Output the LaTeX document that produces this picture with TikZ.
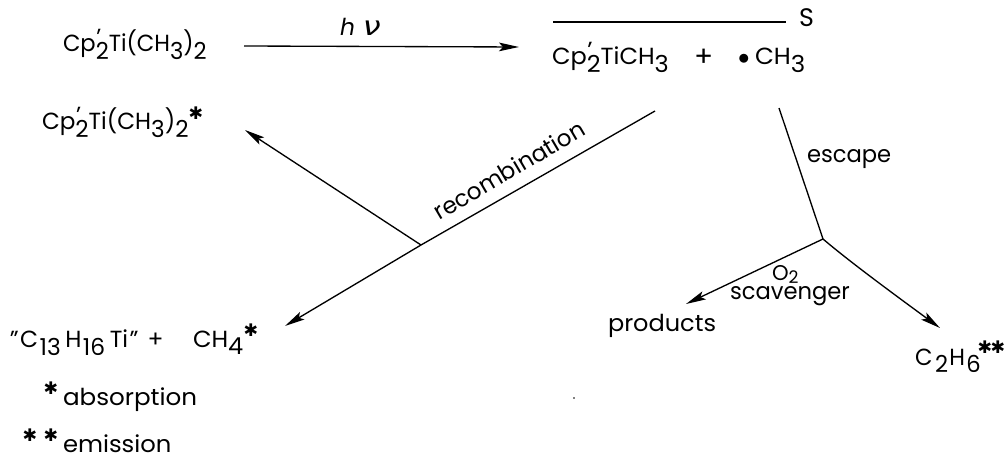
\documentclass[tikz,border=0pt]{standalone}
\usepackage{fontspec}
\setmainfont{Poppins}
\newfontfamily\djv{DejaVu Sans}
\usetikzlibrary{arrows.meta}
\newcommand{\dn}[1]{\raisebox{-0.55ex}{#1}}
\newcommand{\dnn}[1]{\raisebox{-0.7ex}{#1}}
\newcommand{\cpp}{Cp\rlap{\raisebox{0.5ex}{\kern0.5pt'}}\dn{2}}
\newcommand{\wid}[2]{\scalebox{#1}[1]{#2}}
\tikzset{
  txt/.style={inner sep=0pt,outer sep=0pt,anchor=base west,font=\fontsize{17.5pt}{20pt}\selectfont},
  starn/.style={inner sep=0pt,outer sep=0pt,anchor=center,font=\djv\fontsize{13pt}{14pt}\selectfont},
  lin/.style={line width=1pt,black},
  arr/.style={lin,-{Stealth[length=15pt,width=6.5pt,inset=3pt]}},
}
\begin{document}
\begin{tikzpicture}[x=0.75pt,y=-0.75pt]
\useasboundingbox (0,0) rectangle (1004,456);
% labels
\node[txt] (a) at (63,52) {\wid{0.97}{\cpp Ti(CH\dn{3})\dn{2}}};
\node[txt] (b) at (42,130) {\wid{0.99}{\cpp Ti(CH\dn{3})\dn{2}}};
\node[starn] (bs) at (196,113) {✱};
\node[txt] (hv) at (340,36) {\textit{h}\kern6pt\wid{1.2}{\djv\itshape\fontsize{20pt}{20pt}\selectfont ν}};
\node[txt,font=\fontsize{19pt}{20pt}\selectfont] (s) at (799,27) {S};
\node[txt] (c) at (552,65) {\wid{1.03}{\cpp TiCH\dn{3}}};
\node[txt,font=\fontsize{21pt}{22pt}\selectfont] (plus) at (694,67) {+};
\node[txt] (dot) at (738,65) {$\bullet$};
\node[txt] (d) at (755,65) {\wid{1.05}{CH\dn{3}}};
\node[txt,anchor=center,rotate=30.5] (rec) at (509,170) {\wid{0.99}{recombination}};
\node[txt] (esc) at (807,163) {\wid{0.97}{escape}};
\node[txt] (o2) at (772,281) {\wid{0.99}{\fontsize{16pt}{16pt}\selectfont O\raisebox{-0.2ex}{\fontsize{13pt}{14pt}\selectfont 2}}};
\node[txt] (sc) at (730,300) {\wid{0.97}{scavenger}};
\node[txt] (pr) at (608,331) {\wid{1.03}{products}};
\node[txt] (e) at (915,365) {\wid{0.97}{C\kern2pt\dn{2}\kern1pt H\kern1pt\dn{6}}};
\node[starn] (es1) at (985,347) {✱};
\node[starn] (es2) at (998,347) {✱};
\node[txt] (f) at (10,347) {"\kern1pt C\kern1pt\dnn{13}\kern3.5pt H\kern1pt\dnn{16}\kern3.5pt Ti\kern1pt"\kern7pt +};
\node[txt] (g) at (193,347) {\wid{1.03}{CH\dn{4}}};
\node[starn] (gs) at (251,330) {✱};
\node[starn] (h1) at (51,388) {✱};
\node[txt] (h) at (63,405) {\wid{1.055}{absorption}};
\node[starn] (i1) at (30,435) {✱};
\node[starn] (i2) at (51,435) {✱};
\node[txt] (i) at (63,452) {\wid{1.04}{emission}};
% connector points
\coordinate (a1) at (244,46);
\coordinate (a2) at (519,47);
\coordinate (s1) at (553,22);
\coordinate (s2) at (786,22);
\coordinate (r1) at (655,111);
\coordinate (rj) at (421,245);
\coordinate (r2) at (285,326);
\coordinate (r3) at (245,130);
\coordinate (e1) at (779,108);
\coordinate (ej) at (823,239);
\coordinate (e2) at (686,304);
\coordinate (e3) at (940,328);
% connectors
\draw[arr] (a1) -- (a2);
\draw[lin] (s1) -- (s2);
\draw[arr] (r1) -- (rj) -- (r2);
\draw[arr] (rj) -- (r3);
\draw[lin] (e1) -- (ej);
\draw[arr] (ej) -- (e2);
\draw[arr] (ej) .. controls (850,262) and (895,295) .. (e3);
\fill (574,398) circle (0.8);
\end{tikzpicture}
\end{document}
